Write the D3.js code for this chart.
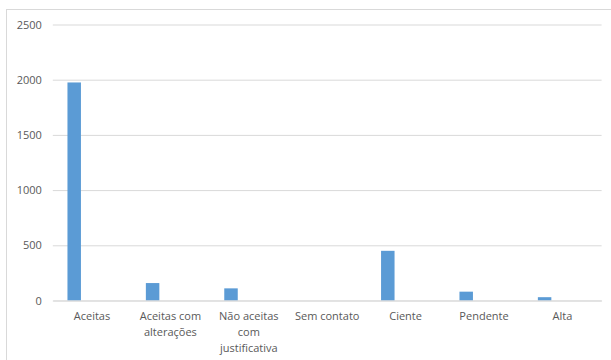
<!DOCTYPE html>
<html>
<head>
<meta charset="utf-8">
<script src="https://cdn.jsdelivr.net/npm/d3@7"></script>
<style>
  body { margin: 0; background: #fff; }
  text { font-family: "Open Sans", sans-serif; }
</style>
</head>
<body>
<div id="chart"></div>
<script>
// dados
var categorias = ["Aceitas", "Aceitas com alterações", "Não aceitas com justificativa", "Sem contato", "Ciente", "Pendente", "Alta"];
var valores = [1975, 158, 110, 0, 450, 80, 30];
var ticksY = [0, 500, 1000, 1500, 2000, 2500];

var width = 611, height = 360;
var margin = {top: 24.5, right: 9.4, bottom: 59.5, left: 52.8};

var svg = d3.select("#chart").append("svg")
  .attr("width", width)
  .attr("height", height);

// borda do gráfico
svg.append("rect")
  .attr("x", 6.5).attr("y", 9.5)
  .attr("width", width).attr("height", height)
  .attr("fill", "none")
  .attr("stroke", "#d9d9d9");

var x = d3.scaleBand()
  .domain(categorias)
  .range([margin.left, width - margin.right]);

var y = d3.scaleLinear()
  .domain([0, 2500])
  .range([height - margin.bottom, margin.top]);

// linhas de grade
svg.append("g")
  .attr("transform", `translate(${margin.left},0)`)
  .call(d3.axisLeft(y).tickValues(ticksY).tickFormat(d3.format("d"))
    .tickSize(-(width - margin.left - margin.right)).tickPadding(11))
  .call(function(g) {
    g.select(".domain").remove();
    g.selectAll(".tick line").attr("stroke", "#d9d9d9");
    g.selectAll(".tick text").attr("fill", "#595959").style("font-size", "11px");
  });

// barras (deslocadas para a esquerda, como no Excel)
var bw = x.bandwidth() * 0.172;
svg.selectAll(".bar")
  .data(valores)
  .enter().append("rect")
  .attr("class", "bar")
  .attr("x", function(d, i) { return x(categorias[i]) + x.bandwidth() / 2 - x.bandwidth() * 0.227 - bw / 2; })
  .attr("y", function(d) { return y(d); })
  .attr("width", bw)
  .attr("height", function(d) { return y(0) - y(d); })
  .attr("fill", "#5b9bd5");

// eixo x
svg.append("g")
  .attr("transform", `translate(0,${y(0)})`)
  .call(d3.axisBottom(x).tickSize(0).tickPadding(12))
  .call(function(g) {
    g.select(".domain").attr("stroke", "#d9d9d9");
    g.selectAll(".tick text").attr("fill", "#595959").style("font-size", "11px").call(wrap, 66);
  });

function wrap(text, w) {
  text.each(function() {
    var t = d3.select(this);
    var words = t.text().split(/\s+/);
    var y0 = t.attr("y"), dy = parseFloat(t.attr("dy"));
    var line = [], n = 0;
    var tspan = t.text(null).append("tspan").attr("x", 0).attr("y", y0).attr("dy", dy + "em");
    words.forEach(function(word) {
      line.push(word);
      tspan.text(line.join(" "));
      if (tspan.node().getComputedTextLength() > w && line.length > 1) {
        line.pop();
        tspan.text(line.join(" "));
        line = [word];
        tspan = t.append("tspan").attr("x", 0).attr("y", y0)
          .attr("dy", (++n * 1.45 + dy) + "em").text(word);
      }
    });
  });
}
</script>
</body>
</html>
